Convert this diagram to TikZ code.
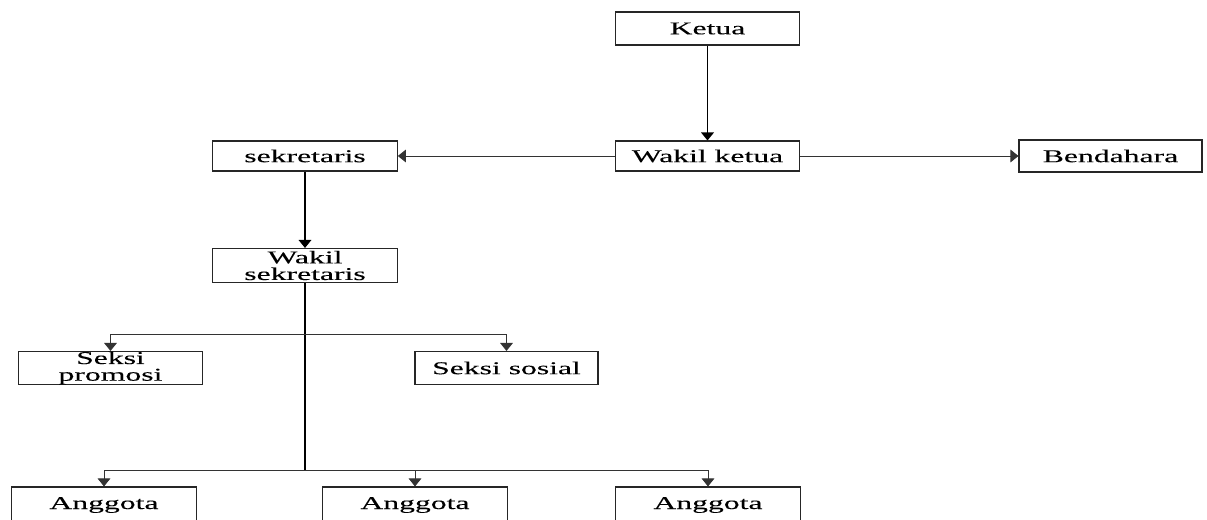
\documentclass[tikz,border=0pt]{standalone}
\usepackage{fontspec}
\setmainfont{Liberation Serif}[FakeStretch=1.76,FakeBold=0.1]
\usetikzlibrary{arrows.meta}
\begin{document}
\begin{tikzpicture}[x=0.75pt,y=-0.75pt,
  box/.style={draw=black!85, line width=0.8pt, minimum width=138.5pt, inner sep=0pt,
    align=center, font=\fontsize{13.5}{12.5}\selectfont},
  arr/.style={-{Triangle[width=9.5pt,length=6pt]}, line width=0.7pt, black!80},
]
\path[use as bounding box] (0,0) rectangle (1207,520);
\clip (0,0) rectangle (1207,520);
\node[box, minimum height=24.75pt] (ketua) at (707.5,28.5) {Ketua};
\node[box, minimum height=22.5pt] (wketua) at (707.5,156) {Wakil ketua};
\node[box, minimum height=22.5pt] (sek) at (305,156) {sekretaris};
\node[box, minimum height=24pt, minimum width=137.25pt] (bend) at (1110.5,156) {Bendahara};
\node[box, minimum height=25.5pt] (wsek) at (305,265.5) {Wakil\\sekretaris};
\node[box, minimum height=24.75pt] (promosi) at (110.5,368) {Seksi\\promosi};
\node[box, minimum height=24.75pt, minimum width=137.25pt] (sosial) at (506.5,368) {Seksi sosial};
\node[box, minimum height=27pt] (a1) at (104,505) {Anggota};
\node[box, minimum height=27pt] (a2) at (415,505) {Anggota};
\node[box, minimum height=27pt] (a3) at (708,505) {Anggota};
\coordinate (j1) at (305,334);
\coordinate (j2) at (305,470);
\draw[arr, line width=1pt, black] (ketua.south) -- (wketua.north);
\draw[arr] (wketua.west) -- (sek.east);
\draw[arr] (wketua.east) -- (bend.west);
\draw[arr, line width=1pt, black] (sek.south) -- (wsek.north);
\draw[line width=1.5pt] (wsek.south) -- (j2);
\draw[arr] (j1) -| (promosi.north);
\draw[arr] (j1) -| (sosial.north);
\draw[arr] (j2) -| (a1.north);
\draw[arr] (j2) -| (a2.north);
\draw[arr] (j2) -| (a3.north);
\end{tikzpicture}
\end{document}
